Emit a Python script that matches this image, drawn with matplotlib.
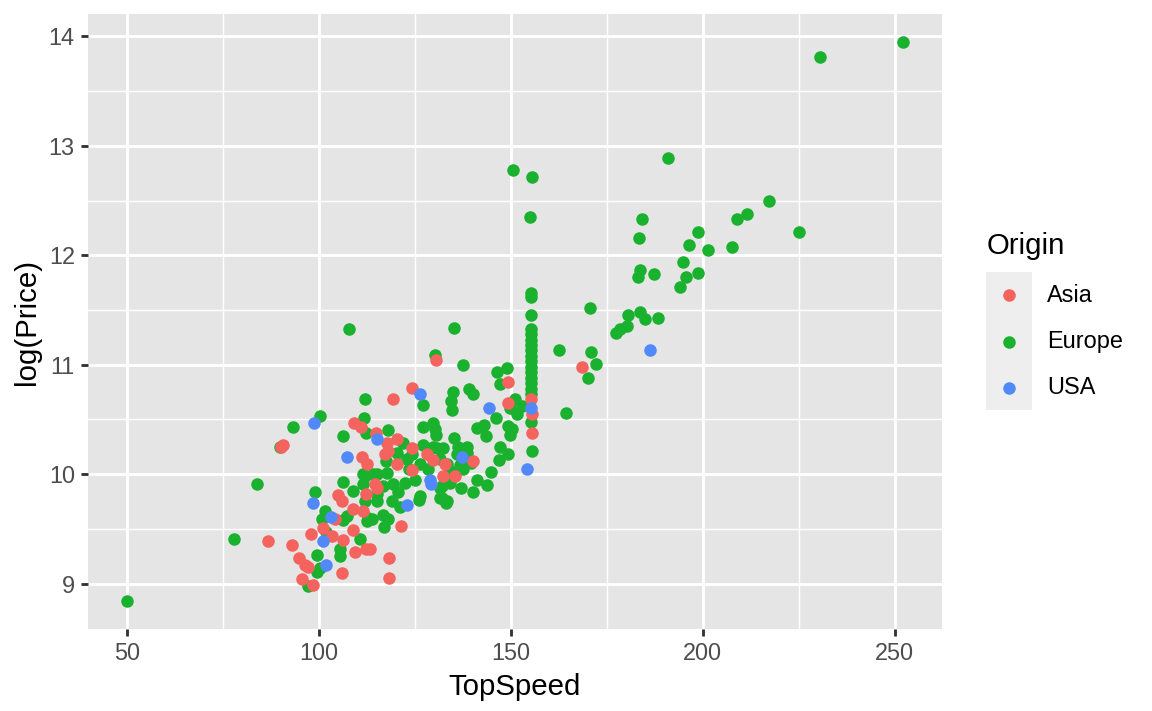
import matplotlib
matplotlib.use("Agg")
import matplotlib.pyplot as plt
from matplotlib.lines import Line2D
from matplotlib.patches import Rectangle
from matplotlib.ticker import MultipleLocator

plt.rcParams['font.family'] = ['Liberation Sans', 'DejaVu Sans']

# TopSpeed / log(Price), by origin
asia_speed = [86.7, 90.6, 90.1, 93.0, 94.8, 95.6, 96.4, 97.1, 98.4, 97.9,
              101.0, 103.4, 106.3, 104.2, 105.0, 106.0, 106.0, 108.9, 108.9, 109.4,
              112.2, 113.3, 112.2, 115.1, 111.2, 112.5, 109.1, 110.9, 114.8, 117.7,
              120.3, 124.2, 117.2, 118.0, 120.3, 128.1, 129.7, 124.2, 132.3, 135.4,
              140.1, 114.6, 111.5, 121.4, 118.2, 118.2, 124.2, 119.3, 130.5, 149.2,
              149.2, 155.2, 155.5, 155.5, 168.5, 132.8]
asia_logprice = [9.39, 10.27, 10.25, 9.35, 9.23, 9.04, 9.17, 9.15, 8.99, 9.45,
                 9.51, 9.43, 9.40, 9.59, 9.81, 9.75, 9.10, 9.68, 9.49, 9.29,
                 9.32, 9.32, 9.82, 9.87, 10.16, 10.09, 10.47, 10.43, 10.38, 10.28,
                 10.32, 10.24, 10.18, 10.21, 10.09, 10.18, 10.13, 10.04, 9.98, 9.98,
                 10.12, 9.91, 9.66, 9.53, 9.23, 9.05, 10.79, 10.69, 11.04, 10.84,
                 10.65, 10.69, 10.55, 10.38, 10.98, 10.09]

europe_speed = [50.0, 77.9, 83.9, 89.8, 93.2, 100.3, 99.5, 100.3, 99.5, 97.1,
                99.0, 101.8, 101.6, 100.8, 106.3, 107.3, 105.5, 105.5, 110.7, 112.8,
                112.5, 112.0, 108.9, 106.3, 111.5, 111.5, 114.1, 106.3, 107.8, 111.7,
                112.0, 112.2, 118.0, 121.9, 127.1, 129.7, 132.3, 136.2, 138.5, 127.1,
                129.7, 130.2, 130.5, 135.2, 138.5, 141.1, 127.1, 134.9, 134.4, 134.6,
                139.1, 140.1, 135.2, 130.2, 137.5, 146.4, 149.0, 147.1, 146.1, 149.7,
                151.0, 152.9, 151.6, 143.0, 143.5, 149.2, 150.3, 149.7, 147.1, 149.2,
                146.9, 155.5, 141.1, 143.8, 140.1, 137.0, 134.1, 131.5, 132.0, 133.1,
                126.3, 126.0, 121.1, 116.7, 118.0, 116.9, 113.8, 112.0, 115.1, 117.7,
                116.7, 119.3, 122.4, 125.0, 120.6, 115.1, 115.1, 119.0, 133.3, 131.5,
                126.3, 131.5, 133.3, 135.9, 137.5, 134.1, 132.0, 120.3, 122.9, 124.2,
                130.7, 128.5, 139.6, 144.8, 123.6, 117.4, 136.8,
                155.2, 155.2, 155.2, 155.2, 155.2, 155.2, 155.2, 155.2, 155.2, 155.2,
                155.2, 155.2, 155.2, 155.2, 155.2, 155.2, 155.2,
                155.0, 155.5, 150.5, 162.5, 164.3, 170.6, 170.8, 172.1, 170.1, 177.3,
                178.4, 180.2, 180.5, 183.6, 184.9, 188.3, 183.1, 183.6, 187.2, 194.0,
                194.8, 195.6, 198.7, 183.3, 184.1, 196.4, 198.7, 201.3, 207.6, 208.9,
                211.5, 217.2, 225.0, 190.9, 230.5, 252.1]
europe_logprice = [8.84, 9.41, 9.91, 10.25, 10.43, 10.53, 9.26, 9.14, 9.11, 8.98,
                   9.84, 9.47, 9.66, 9.59, 9.58, 9.62, 9.32, 9.25, 9.41, 9.60,
                   9.57, 9.75, 9.85, 9.93, 10.00, 9.91, 10.00, 10.35, 11.33, 10.51,
                   10.69, 10.38, 10.40, 10.28, 10.27, 10.25, 10.24, 10.25, 10.25, 10.43,
                   10.47, 10.41, 10.36, 10.33, 10.19, 10.42, 10.63, 10.75, 10.67, 10.59,
                   10.78, 10.73, 11.34, 11.09, 11.00, 10.93, 10.97, 10.82, 10.51, 10.60,
                   10.69, 10.62, 10.55, 10.45, 10.35, 10.44, 10.41, 10.36, 10.25, 10.18,
                   10.13, 10.21, 9.95, 9.90, 9.84, 9.87, 9.92, 9.87, 9.78, 9.74,
                   9.80, 9.76, 9.70, 9.63, 9.59, 9.52, 9.59, 9.98, 10.00, 10.01,
                   9.89, 9.91, 9.92, 9.95, 9.84, 9.82, 9.75, 9.75, 9.75, 9.78,
                   10.09, 10.14, 10.09, 10.18, 10.05, 10.03, 9.89, 10.19, 10.14, 10.18,
                   10.24, 10.05, 10.10, 10.02, 10.05, 10.12, 10.08,
                   11.66, 11.62, 11.45, 11.33, 11.28, 11.23, 11.18, 11.13, 11.08, 11.03,
                   10.98, 10.93, 10.88, 10.83, 10.78, 10.73, 10.48,
                   12.35, 12.72, 12.78, 11.13, 10.56, 11.52, 11.12, 11.01, 10.88, 11.29,
                   11.33, 11.35, 11.45, 11.48, 11.42, 11.43, 11.80, 11.87, 11.83, 11.71,
                   11.94, 11.80, 11.84, 12.16, 12.33, 12.09, 12.21, 12.05, 12.08, 12.33,
                   12.38, 12.50, 12.21, 12.89, 13.81, 13.95]

usa_speed = [98.7, 98.4, 101.0, 101.8, 103.1, 107.3, 115.1, 126.3, 144.3, 155.2,
             154.2, 186.2, 137.2, 128.9, 129.2, 122.9]
usa_logprice = [10.47, 9.74, 9.39, 9.17, 9.61, 10.16, 10.32, 10.73, 10.60, 10.60,
                10.05, 11.13, 10.16, 9.95, 9.91, 9.72]

origins = ['Asia', 'Europe', 'USA']
colors = {'Asia': '#F5635E', 'Europe': '#19B12D', 'USA': '#5189FB'}

W, H = 1152, 711
fig = plt.figure(figsize=(W / 192, H / 192), dpi=192)
ax = fig.add_axes([88 / W, 1 - 629 / H, (941.5 - 88) / W, (629 - 14) / H])

ms = 4.7  # point diameter in pt
ax.scatter(europe_speed, europe_logprice, s=ms ** 2, color=colors['Europe'], linewidths=0, zorder=3)
ax.scatter(asia_speed, asia_logprice, s=ms ** 2, color=colors['Asia'], linewidths=0, zorder=3)
ax.scatter(usa_speed, usa_logprice, s=ms ** 2, color=colors['USA'], linewidths=0, zorder=3)

ax.margins(x=0.05, y=0.05)
ax.set_facecolor('#E5E5E5')
for s in ax.spines.values():
    s.set_visible(False)

ax.xaxis.set_major_locator(MultipleLocator(50))
ax.xaxis.set_minor_locator(MultipleLocator(25))
ax.yaxis.set_major_locator(MultipleLocator(1))
ax.yaxis.set_minor_locator(MultipleLocator(0.5))
ax.grid(which='major', color='white', linewidth=1.07)
ax.grid(which='minor', color='white', linewidth=0.53)
ax.set_axisbelow(True)

ax.tick_params(which='major', length=2.75, width=1.07, color='#333333',
               labelcolor='#4D4D4D', labelsize=8.8, pad=2.2)
ax.tick_params(which='minor', length=0)

ax.set_xlabel('TopSpeed', fontsize=11, color='black', labelpad=2.75)
ax.set_ylabel('log(Price)', fontsize=11, color='black', labelpad=2.75)

# legend, ggplot style
def fx(px):
    return px / W

def fy(py):
    return 1 - py / H

fig.text(fx(987), fy(246), 'Origin', fontsize=11, ha='left', va='center')
fig.add_artist(Rectangle((fx(986), fy(410)), fx(46), 138 / H, transform=fig.transFigure,
                         facecolor='#EEEEEE', edgecolor='none'))
for i, name in enumerate(origins):
    ky = 295 + 46.5 * i
    fig.add_artist(Line2D([fx(1009)], [fy(ky)], transform=fig.transFigure, marker='o',
                          markersize=ms, color=colors[name], markeredgewidth=0, linestyle='none'))
    fig.text(fx(1047), fy(ky), name, fontsize=8.8, ha='left', va='center')

fig.savefig('out.png', dpi=192)
